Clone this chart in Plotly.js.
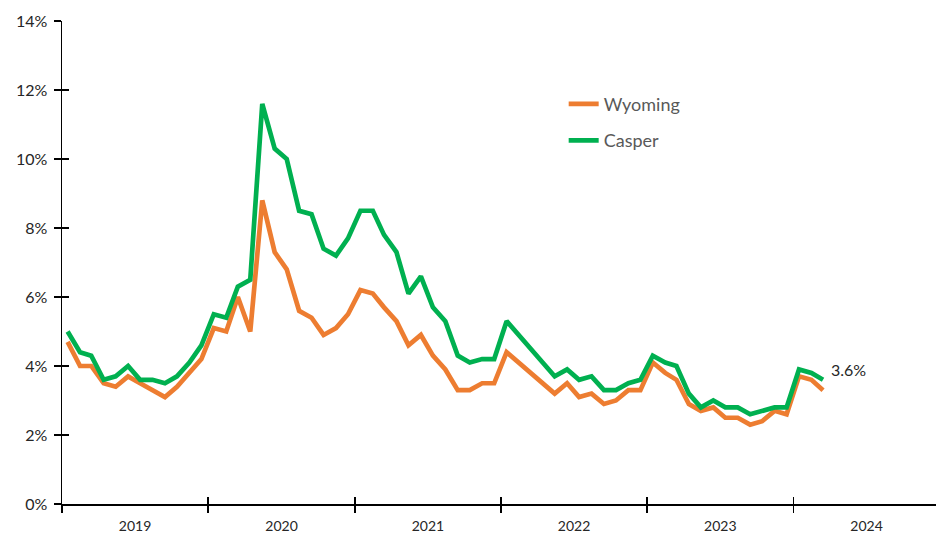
<!DOCTYPE html>
<html>
<head>
<meta charset="utf-8">
<script src="https://cdn.plot.ly/plotly-3.0.1.min.js"></script>
<style>html,body{margin:0;padding:0;background:#fff;}#chart{width:936px;height:534px;}</style>
</head>
<body>
<div id="chart"></div>
<script>
// Monthly categories: Jan 2019 .. Mar 2024
var startYear = 2019;
var nMonths = 63;
var months = [];
for (var i = 0; i < nMonths; i++) {
  var y = startYear + Math.floor(i / 12);
  var m = (i % 12) + 1;
  months.push(y + '-' + (m < 10 ? '0' + m : m) + '-15');
}

var wyoming = [4.7,4.0,4.0,3.5,3.4,3.7,3.5,3.3,3.1,3.4,3.8,4.2,
               5.1,5.0,6.0,5.0,8.8,7.3,6.8,5.6,5.4,4.9,5.1,5.5,
               6.2,6.1,5.7,5.3,4.6,4.9,4.3,3.9,3.3,3.3,3.5,3.5,
               4.4,4.1,3.8,3.5,3.2,3.5,3.1,3.2,2.9,3.0,3.3,3.3,
               4.1,3.8,3.6,2.9,2.7,2.8,2.5,2.5,2.3,2.4,2.7,2.6,
               3.7,3.6,3.3];

var casper = [5.0,4.4,4.3,3.6,3.7,4.0,3.6,3.6,3.5,3.7,4.1,4.6,
              5.5,5.4,6.3,6.5,11.6,10.3,10.0,8.5,8.4,7.4,7.2,7.7,
              8.5,8.5,7.8,7.3,6.1,6.6,5.7,5.3,4.3,4.1,4.2,4.2,
              5.3,4.9,4.5,4.1,3.7,3.9,3.6,3.7,3.3,3.3,3.5,3.6,
              4.3,4.1,4.0,3.2,2.8,3.0,2.8,2.8,2.6,2.7,2.8,2.8,
              3.9,3.8,3.6];

var seriesNames = ['Wyoming', 'Casper'];
var yTickVals = [0, 2, 4, 6, 8, 10, 12, 14];
var yTickText = ['0%', '2%', '4%', '6%', '8%', '10%', '12%', '14%'];

var FONT = 'Lato, "Open Sans", sans-serif';
var xRange = ['2019-01-01', '2024-12-22'];

var traces = [
  {x: months, y: wyoming, name: seriesNames[0], type: 'scatter', mode: 'lines',
   line: {color: '#ED7D31', width: 4.7}, legendgroup: 'a', hoverinfo: 'skip'},
  {x: months, y: casper, name: seriesNames[1], type: 'scatter', mode: 'lines',
   line: {color: '#00B050', width: 4.7}, legendgroup: 'b', hoverinfo: 'skip'},
  {x: [], y: [], xaxis: 'x2', yaxis: 'y2', showlegend: false, type: 'scatter', mode: 'lines'}
];

var layout = {
  width: 936, height: 534,
  margin: {l: 62, r: 0, t: 21, b: 30},
  paper_bgcolor: '#fff', plot_bgcolor: '#fff',
  font: {family: FONT, size: 15, color: '#262626'},
  showlegend: true,
  legend: {x: 0.574, xanchor: 'left', y: 0.866, yanchor: 'top',
           font: {family: FONT, size: 18, color: '#595959'},
           tracegroupgap: 10, bgcolor: 'rgba(0,0,0,0)'},
  xaxis: {type: 'date', range: xRange, tick0: '2019-01-01', dtick: 'M12',
          tickformat: '%Y', ticklabelmode: 'period',
          ticks: 'outside', ticklen: 7, tickwidth: 1.5, tickcolor: '#000',
          showline: true, linecolor: '#000', linewidth: 1.5,
          showgrid: false, zeroline: false, fixedrange: true,
          tickfont: {family: FONT, size: 14, color: '#262626'}, ticklabelstandoff: 2},
  xaxis2: {type: 'date', range: xRange, tick0: '2019-01-01', dtick: 'M12',
           overlaying: 'x', anchor: 'y', side: 'bottom',
           ticks: 'inside', ticklen: 7, tickwidth: 1.5, tickcolor: '#000',
           showticklabels: false, showline: false, showgrid: false, zeroline: false},
  yaxis: {range: [0, 14], tickmode: 'array', tickvals: yTickVals, ticktext: yTickText,
          ticks: 'outside', ticklen: 7, tickwidth: 1.5, tickcolor: '#000',
          showline: true, linecolor: '#000', linewidth: 1.5,
          showgrid: false, zeroline: false, fixedrange: true,
          tickfont: {family: FONT, size: 16, color: '#262626'}, ticklabelstandoff: 3},
  yaxis2: {range: [0, 14], tickmode: 'array', tickvals: yTickVals, overlaying: 'y', anchor: 'x', side: 'left',
           ticks: 'inside', ticklen: 7, tickwidth: 1.5, tickcolor: '#000',
           showticklabels: false, showline: false, showgrid: false, zeroline: false},
  annotations: [{
    x: months[months.length - 1], y: casper[casper.length - 1],
    xref: 'x', yref: 'y', text: casper[casper.length - 1].toFixed(1) + '%',
    showarrow: false, xanchor: 'left', yanchor: 'middle', xshift: 6, yshift: 10,
    font: {family: FONT, size: 16, color: '#262626'}
  }]
};

Plotly.newPlot('chart', traces, layout, {staticPlot: true, displayModeBar: false});
</script>
</body>
</html>
